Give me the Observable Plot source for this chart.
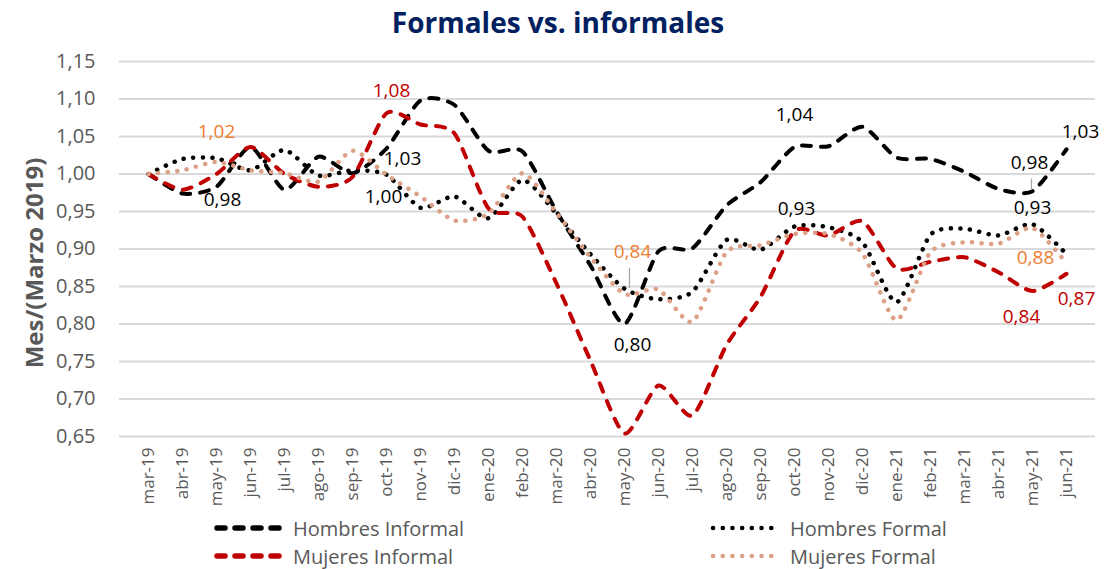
<!DOCTYPE html>
<html><head><meta charset="utf-8">
<script src="https://cdn.jsdelivr.net/npm/d3@7"></script>
<script src="https://cdn.jsdelivr.net/npm/@observablehq/plot@0.6"></script>
<style>
body{margin:0;background:#fff;font-family:"Open Sans",sans-serif;}
#wrap{position:relative;width:1116px;height:569px;overflow:hidden}
#title{position:absolute;left:0;width:1116px;top:3px;text-align:center;font-weight:700;font-size:28px;color:#002060;line-height:38px}
.leg{position:absolute;font-size:20px;color:#595959;display:flex;align-items:center;white-space:nowrap;height:28px}
.leg svg{margin-right:8px}
</style></head><body>
<div id="wrap"><div id="chart"></div><div id="title">Formales vs. informales</div><div id="legend"></div></div>
<script>
const months = ["mar-19","abr-19","may-19","jun-19","jul-19","ago-19","sep-19","oct-19","nov-19","dic-19","ene-20","feb-20","mar-20","abr-20","may-20","jun-20","jul-20","ago-20","sep-20","oct-20","nov-20","dic-20","ene-21","feb-21","mar-21","abr-21","may-21","jun-21"];
const hombresInformal = [1.000,0.974,0.983,1.036,0.979,1.023,1.001,1.034,1.098,1.092,1.031,1.030,0.950,0.878,0.800,0.897,0.901,0.958,0.989,1.036,1.037,1.063,1.022,1.020,1.003,0.980,0.977,1.033];
const hombresFormal = [1.000,1.020,1.021,1.005,1.032,0.998,1.005,0.999,0.955,0.970,0.941,0.992,0.947,0.893,0.847,0.833,0.843,0.912,0.899,0.930,0.929,0.909,0.829,0.919,0.927,0.918,0.933,0.893];
const mujeresInformal = [1.000,0.979,1.000,1.036,1.000,0.983,0.996,1.081,1.066,1.054,0.954,0.943,0.854,0.751,0.654,0.718,0.678,0.772,0.836,0.924,0.918,0.937,0.874,0.883,0.889,0.869,0.844,0.867];
const mujeresFormal = [1.000,1.005,1.016,1.005,1.001,0.990,1.031,0.999,0.970,0.938,0.947,1.001,0.948,0.889,0.840,0.846,0.803,0.896,0.905,0.920,0.920,0.894,0.805,0.896,0.909,0.907,0.928,0.881];
const yTicks = [0.65,0.70,0.75,0.80,0.85,0.90,0.95,1.00,1.05,1.10,1.15];
const seriesNames = ["Hombres Informal","Hombres Formal","Mujeres Informal","Mujeres Formal"];

const fmt = v => v.toFixed(2).replace(".", ",");
const seriesValues = {
  "Hombres Informal": hombresInformal,
  "Hombres Formal": hombresFormal,
  "Mujeres Informal": mujeresInformal,
  "Mujeres Formal": mujeresFormal
};
const styles = {
  "Hombres Informal": {stroke:"#000000", dash:"9,10", width:4},
  "Hombres Formal": {stroke:"#000000", dash:"0.1,9.5", width:4.5},
  "Mujeres Informal": {stroke:"#C00000", dash:"9,10", width:4},
  "Mujeres Formal": {stroke:"#DBA085", dash:"0.1,9.5", width:4.5}
};
// data labels: which point, and where the label sits relative to it
const labelSpecs = [
  {s:"Mujeres Formal", m:"may-19", dx:0, dy:-30, c:"#ED7D31"},
  {s:"Hombres Informal", m:"may-19", dx:6, dy:13, c:"#000"},
  {s:"Mujeres Informal", m:"oct-19", dx:5, dy:-22, c:"#C00000"},
  {s:"Hombres Informal", m:"oct-19", dx:16, dy:10, c:"#000"},
  {s:"Hombres Formal", m:"oct-19", dx:-3, dy:22, c:"#000"},
  {s:"Mujeres Formal", m:"may-20", dx:8, dy:-42, c:"#ED7D31", lead:[0.848,0.875], ldx:5},
  {s:"Hombres Informal", m:"may-20", dx:8, dy:21, c:"#000"},
  {s:"Hombres Informal", m:"oct-20", dx:0, dy:-32, c:"#000"},
  {s:"Hombres Formal", m:"oct-20", dx:2, dy:-18, c:"#000"},
  {s:"Hombres Informal", m:"may-21", dx:-3, dy:-28, c:"#000", lead:[0.979,0.994], ldx:-1},
  {s:"Hombres Informal", m:"jun-21", dx:14, dy:-17, c:"#000"},
  {s:"Hombres Formal", m:"may-21", dx:0, dy:-16, c:"#000"},
  {s:"Mujeres Formal", m:"jun-21", dx:-31, dy:-5, c:"#ED7D31"},
  {s:"Mujeres Informal", m:"may-21", dx:-11, dy:26, c:"#C00000"},
  {s:"Mujeres Informal", m:"jun-21", dx:10, dy:25, c:"#C00000"}
];
const valOf = (s, m) => seriesValues[s][months.indexOf(m)];

const lineMarks = seriesNames.map(name => Plot.line(months, {
  x: d => d,
  y: (d, i) => seriesValues[name][i],
  stroke: styles[name].stroke,
  strokeWidth: styles[name].width,
  strokeDasharray: styles[name].dash,
  strokeLinecap: "round",
  strokeLinejoin: "round",
  curve: "cardinal",
  tension: 0.3
}));

const leadMarks = labelSpecs.filter(l => l.lead).map(l => Plot.link([l], {
  x1: d => d.m, x2: d => d.m,
  y1: d => d.lead[0], y2: d => d.lead[1],
  stroke: "#a6a6a6", strokeWidth: 1.2, dx: l.ldx
}));

const labelMarks = labelSpecs.map(l => Plot.text([l], {
  x: d => d.m,
  y: d => valOf(d.s, d.m),
  text: d => fmt(valOf(d.s, d.m)),
  fill: l.c, dx: l.dx, dy: l.dy, fontSize: 19
}));

const chart = Plot.plot({
  width: 1116, height: 569,
  marginLeft: 119, marginRight: 21, marginTop: 61, marginBottom: 133,
  style: {fontFamily: "'Open Sans', sans-serif", background: "transparent"},
  x: {type: "point", domain: months, padding: 0.5},
  y: {domain: [0.65, 1.15]},
  marks: [
    Plot.ruleY(yTicks, {stroke: "#d9d9d9", strokeWidth: 2}),
    Plot.axisY(yTicks, {tickSize: 0, tickPadding: 24, tickFormat: fmt, fontSize: 20, fill: "#595959", label: null}),
    Plot.axisX({tickSize: 0, tickRotate: -90, tickPadding: 11, fontSize: 17, fill: "#595959", label: null}),
    Plot.text(["Mes/(Marzo 2019)"], {frameAnchor: "left", textAnchor: "middle", dx: -84, dy: 14, rotate: -90, fontWeight: 700, fontSize: 24, fill: "#595959"}),
    ...lineMarks,
    ...leadMarks,
    ...labelMarks
  ]
});
document.getElementById("chart").appendChild(chart);

// legend
const legendPos = {
  "Hombres Informal": {x: 213, y: 514},
  "Hombres Formal": {x: 710, y: 514},
  "Mujeres Informal": {x: 213, y: 542},
  "Mujeres Formal": {x: 710, y: 542}
};
const legend = document.getElementById("legend");
seriesNames.forEach(name => {
  const st = styles[name];
  const p = legendPos[name];
  const div = document.createElement("div");
  div.className = "leg";
  div.style.left = p.x + "px";
  div.style.top = p.y + "px";
  const dotted = st.dash.startsWith("0.1");
  const w = 72;
  div.innerHTML = `<svg width="${w}" height="10"><line x1="${dotted ? 3 : 4}" y1="5" x2="${w - 4}" y2="5" stroke="${st.stroke}" stroke-width="${dotted ? 4.5 : 5.5}" stroke-linecap="round" stroke-dasharray="${dotted ? "0.1,9.6" : "8,10"}"/></svg><span>${name}</span>`;
  legend.appendChild(div);
});
</script>
</body></html>
